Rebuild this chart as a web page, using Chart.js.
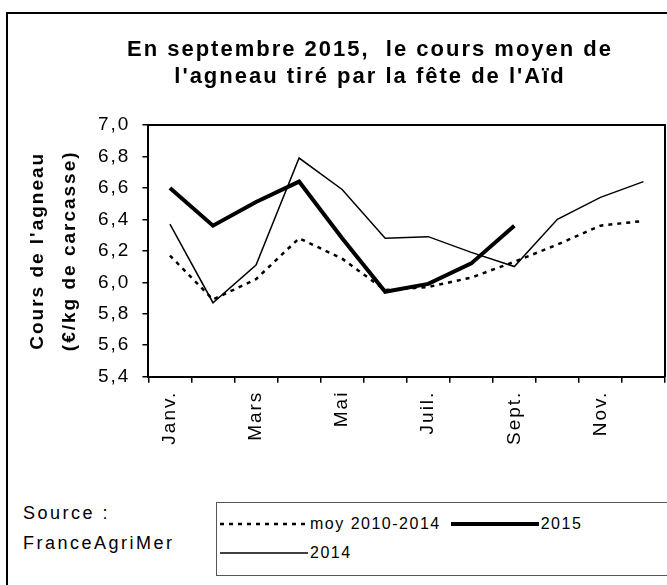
<!DOCTYPE html>
<html>
<head>
<meta charset="utf-8">
<script src="https://cdn.jsdelivr.net/npm/chart.js@4/dist/chart.umd.min.js"></script>
<style>
  body { margin: 0; background: #fff; overflow: hidden; font-family: 'Liberation Sans', Arial, sans-serif; color: #000; }
  #frame { position: absolute; left: 6px; top: 12px; width: 800px; height: 700px; border-left: 2px solid #000; border-top: 2px solid #000; }
  #chart { position: absolute; left: 0; top: 0; }
  #source { position: absolute; left: 23px; top: 498px; font-size: 18px; line-height: 30px; letter-spacing: 2.5px; }
  #legend { position: absolute; left: 216px; top: 502px; width: 520px; height: 74px; border: 1px solid #555; box-sizing: border-box; padding: 6px 0 0 3px; }
  #legend .rows { width: 380px; display: flex; flex-wrap: wrap; }
  #legend .item { display: flex; align-items: center; height: 29px; margin-right: 10px; font-size: 16px; letter-spacing: 1.5px; }
  #legend svg { margin-right: 2px; }
</style>
</head>
<body>
<div id="frame"></div>
<canvas id="chart" width="740" height="470"></canvas>
<div id="source">Source :<br>FranceAgriMer</div>
<div id="legend"><div class="rows"></div></div>
<script>
const months = ['Janv.', 'Févr.', 'Mars', 'Avr.', 'Mai', 'Juin', 'Juil.', 'Août', 'Sept.', 'Oct.', 'Nov.', 'Déc.'];
const moy = [6.17, 5.89, 6.02, 6.28, 6.15, 5.95, 5.97, 6.03, 6.13, 6.24, 6.36, 6.39];
const y2015 = [6.60, 6.36, 6.51, 6.64, 6.28, 5.94, 5.99, 6.12, 6.36, null, null, null];
const y2014 = [6.37, 5.87, 6.11, 6.79, 6.59, 6.28, 6.29, 6.19, 6.10, 6.40, 6.54, 6.64];
const yTicks = [5.4, 7.0, 0.2]; // min, max, step

const family = "'Liberation Sans', Arial, sans-serif";

// wide letter spacing like the original picture
const spacing = {
  id: 'spacing',
  beforeLayout(chart) { chart.ctx.letterSpacing = '2px'; },
  beforeDraw(chart) { chart.ctx.letterSpacing = '2px'; }
};

const ctx = document.getElementById('chart').getContext('2d');
const chart = new Chart(ctx, {
  type: 'line',
  data: {
    labels: months,
    datasets: [
      { label: 'moy 2010-2014', data: moy, borderColor: '#000', borderWidth: 2.5, borderDash: [4, 5] },
      { label: '2015', data: y2015, borderColor: '#000', borderWidth: 4 },
      { label: '2014', data: y2014, borderColor: '#000', borderWidth: 1.5 }
    ]
  },
  options: {
    responsive: false,
    animation: false,
    elements: { point: { radius: 0 }, line: { tension: 0 } },
    layout: { padding: { left: 17, right: 17, top: 20, bottom: 17 } },
    plugins: {
      legend: { display: false },
      tooltip: { enabled: false },
      title: {
        display: true,
        text: ['En septembre 2015,  le cours moyen de', "l'agneau tiré par la fête de l'Aïd"],
        color: '#000',
        font: { family: family, size: 22, weight: 'bold', lineHeight: '27px' },
        padding: { top: 16, bottom: 35 }
      }
    },
    scales: {
      x: {
        type: 'category',
        offset: true,
        grid: { offset: true, drawOnChartArea: false, drawTicks: true, tickLength: 6, color: '#000', lineWidth: 1.5 },
        border: { color: '#000', width: 2 },
        ticks: {
          autoSkip: false, maxRotation: 90, minRotation: 90, padding: 8, color: '#000',
          font: { family: family, size: 19 },
          callback: (v, i) => i % 2 === 0 ? months[i] : ''
        }
      },
      xTop: {
        type: 'category', position: 'top',
        grid: { display: false }, ticks: { display: false },
        border: { color: '#000', width: 2 },
        afterFit: s => { s.height = 0; }
      },
      y: {
        min: yTicks[0], max: yTicks[1],
        grid: { drawOnChartArea: false, drawTicks: true, tickLength: 6, color: '#000', lineWidth: 1.5 },
        border: { color: '#000', width: 2 },
        ticks: {
          stepSize: yTicks[2], padding: 12, color: '#000',
          font: { family: family, size: 19 },
          callback: v => v.toFixed(1).replace('.', ',')
        },
        title: {
          display: true,
          text: ["Cours de l'agneau", '(€/kg de carcasse)'],
          color: '#000',
          font: { family: family, size: 19, weight: 'bold', lineHeight: '32px' },
          padding: { top: 5, bottom: 0 }
        }
      },
      yRight: {
        type: 'linear', position: 'right',
        grid: { display: false }, ticks: { display: false },
        border: { color: '#000', width: 2 },
        afterFit: s => { s.width = 58; }
      }
    }
  },
  plugins: [spacing]
});

// legend box built from the datasets
const rows = document.querySelector('#legend .rows');
chart.data.datasets.forEach(ds => {
  const item = document.createElement('div');
  item.className = 'item';
  const dash = ds.borderDash ? ds.borderDash.join(' ') : 'none';
  item.innerHTML = `<svg width="88" height="8"><line x1="0" y1="4" x2="88" y2="4" stroke="#000" stroke-width="${ds.borderWidth}" stroke-dasharray="${dash}"/></svg><span>${ds.label}</span>`;
  rows.appendChild(item);
});
</script>
</body>
</html>
